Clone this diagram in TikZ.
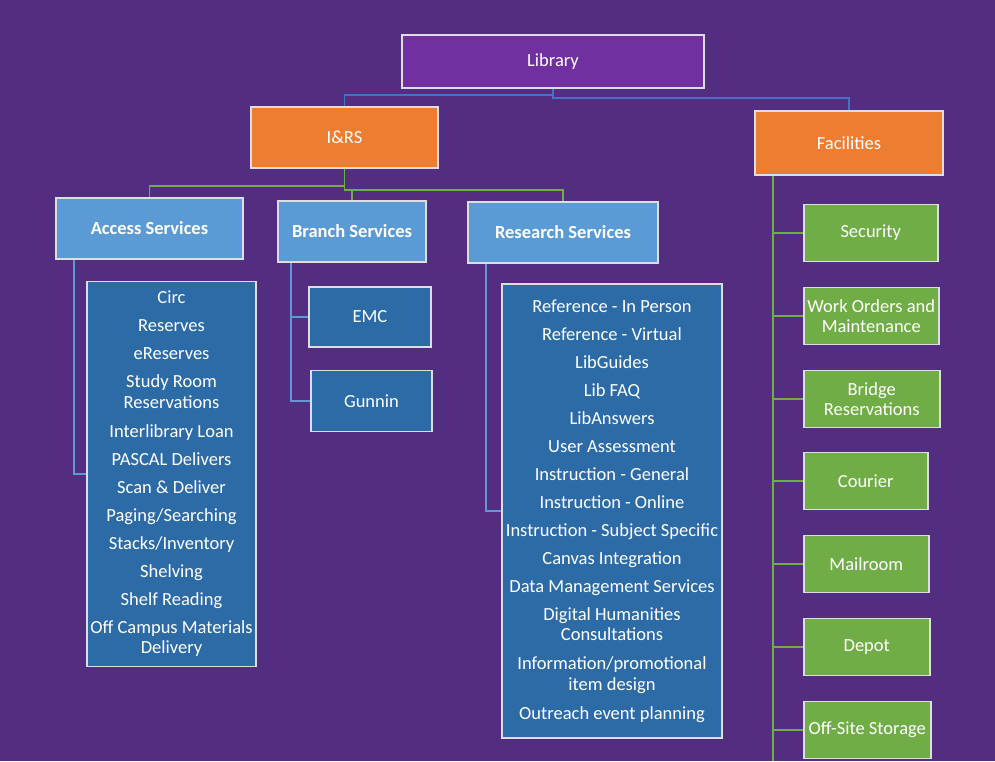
\documentclass[tikz,border=0pt]{standalone}
\usepackage{fontspec}
\setmainfont{Carlito}
\usepackage{tikz}

\definecolor{bgpurple}{RGB}{82,45,128}
\definecolor{libpurple}{RGB}{112,48,160}
\definecolor{unitorange}{RGB}{237,125,49}
\definecolor{deptblue}{RGB}{91,155,213}
\definecolor{listblue}{RGB}{45,107,167}
\definecolor{facgreen}{RGB}{112,173,71}
\definecolor{edgegrey}{RGB}{222,222,226}
\definecolor{toplink}{RGB}{68,114,196}

\begin{document}
\begin{tikzpicture}[x=1pt, y=-1pt, font=\fontsize{18.5}{20.5}\selectfont,
	box/.style={draw=edgegrey, line width=1.5pt, text=white, align=center, inner sep=1pt},
	top/.style={box, fill=libpurple},
	unit/.style={box, fill=unitorange},
	dept/.style={box, fill=deptblue, font=\fontsize{18.5}{20.5}\selectfont\bfseries},
	listbox/.style={box, fill=listblue},
	facbox/.style={box, fill=facgreen, anchor=west, minimum height=57pt},
	toplinkline/.style={draw=toplink, line width=1.8pt},
	greenline/.style={draw=facgreen, line width=1.8pt},
	blueline/.style={draw=deptblue, line width=1.8pt},]

\path[use as bounding box, fill=bgpurple] (0,0) rectangle (995,761);

\node[top, minimum width=302pt, minimum height=53pt] (lib) at (553,61.5) {Library};
\node[unit, minimum width=187pt, minimum height=61pt] (irs) at (344.5,137.5) {I\&RS};
\node[unit, minimum width=188pt, minimum height=64pt] (fac) at (849,143) {Facilities};

\node[dept, minimum width=187pt, minimum height=61pt] (acc) at (149.5,228.5) {Access Services};
\node[dept, minimum width=148pt, minimum height=61pt] (br) at (352,231.5) {Branch Services};
\node[dept, minimum width=190pt, minimum height=61pt] (res) at (563,232.5) {Research Services};

\node[listbox, minimum width=169pt, minimum height=385pt] (acclist) at (171.5,474) {
    Circ\\[7.5pt] Reserves\\[7.5pt] eReserves\\[7.5pt] Study Room\\ Reservations\\[8.5pt]
    Interlibrary Loan\\[7.5pt] PASCAL Delivers\\[7.5pt] Scan \& Deliver\\[7.5pt] Paging/Searching\\[7.5pt]
    Stacks/Inventory\\[7.5pt] Shelving\\[7.5pt] Shelf Reading\\[7.5pt] Off Campus Materials\\ Delivery};
\node[listbox, minimum width=122pt, minimum height=60pt] (emc) at (370,317) {EMC};
\node[listbox, minimum width=121pt, minimum height=61pt] (gun) at (371.5,401) {Gunnin};
\node[listbox, minimum width=220pt, minimum height=454pt] (reslist) at (612,511) {
    Reference - In Person\\[7.5pt] Reference - Virtual\\[7.5pt] LibGuides\\[7.5pt] Lib FAQ\\[7.5pt]
    LibAnswers\\[7.5pt] User Assessment\\[7.5pt] Instruction - General\\[7.5pt] Instruction - Online\\[7.5pt]
    Instruction - Subject Specific\\[7.5pt] Canvas Integration\\[7.5pt] Data Management Services\\[7.5pt]
    Digital Humanities\\ Consultations\\[8.5pt] Information/promotional\\ item design\\[8.5pt]
    Outreach event planning};

\node[facbox, minimum width=134pt] (sec) at (803,233) {Security};
\node[facbox, minimum width=135pt] (work) at (803,316) {Work Orders and\\ Maintenance};
\node[facbox, minimum width=136pt] (bridge) at (803,399) {Bridge\\ Reservations};
\node[facbox, minimum width=124pt] (cour) at (803,481) {Courier};
\node[facbox, minimum width=125pt] (mail) at (803,564) {Mailroom};
\node[facbox, minimum width=126pt] (dep) at (803,647) {Depot};
\node[facbox, minimum width=127pt] (off) at (803,730) {Off-Site Storage};

\draw[toplinkline] (lib.south) -- ++(0,6) -| (irs.north);
\draw[toplinkline] (lib.south) -- ++(0,9) -| (fac.north);

\draw[greenline] (irs.south) -- ++(0,17) -| (acc.north);
\draw[greenline] (irs.south) -- ++(0,21) coordinate (irsjoin) -| (res.north);
\draw[greenline] (irsjoin -| br.north) -- (br.north);

\draw[blueline] ([xshift=19pt]acc.south west) |- (acclist.west);
\draw[blueline] ([xshift=14pt]br.south west) |- (emc.west);
\draw[blueline] ([xshift=14pt]br.south west) |- (gun.west);
\draw[blueline] ([xshift=19pt]res.south west) |- (reslist.west);

\coordinate (facend) at ([xshift=19pt]fac.south west |- 0,761);
\draw[greenline] ([xshift=19pt]fac.south west) -- (facend);
\foreach \n in {sec,work,bridge,cour,mail,dep,off}
    \draw[greenline] (\n.west -| facend) -- (\n.west);
\end{tikzpicture}
\end{document}
